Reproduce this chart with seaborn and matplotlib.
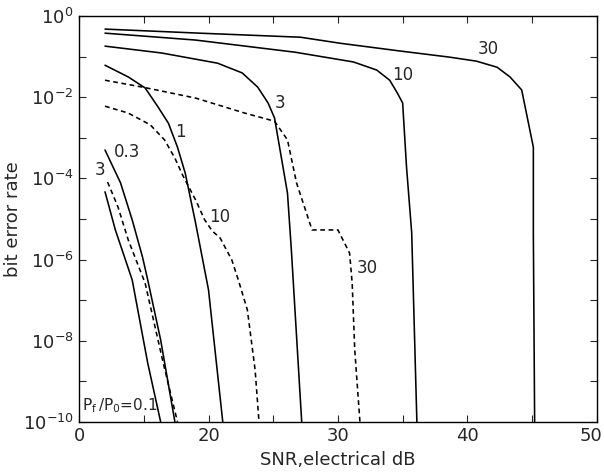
import numpy as np
import pandas as pd
import matplotlib
matplotlib.use("Agg")
import matplotlib.pyplot as plt
import matplotlib.transforms as mtransforms
import seaborn as sns
from matplotlib.ticker import FixedLocator, NullFormatter

# ----------------------------------------------------------------------------
# Data: SNR (dB) and log10(bit error rate)
# ----------------------------------------------------------------------------
# solid curves
snr_s01 = [12.0, 12.8, 14.1, 15.3, 16.3]
ber_s01 = [-4.33, -5.27, -6.50, -8.55, -10.0]

snr_s03 = [12.0, 13.2, 14.1, 14.9, 15.3, 16.3, 17.4]
ber_s03 = [-3.30, -4.11, -5.02, -5.94, -6.50, -7.98, -10.0]

snr_s1 = [12.0, 13.8, 15.1, 16.1, 16.9, 17.6, 18.2, 19.0, 20.0, 20.5, 21.1]
ber_s1 = [-1.21, -1.50, -1.77, -2.24, -2.64, -3.23, -3.87, -5.10, -6.75, -8.23, -10.0]

snr_s3 = [12.0, 16.4, 20.7, 22.6, 23.8, 24.6, 25.1, 26.1, 26.4, 27.2]
ber_s3 = [-0.74, -0.91, -1.16, -1.40, -1.75, -2.14, -2.51, -4.36, -5.76, -10.0]

snr_s10 = [12.0, 19.0, 26.7, 31.2, 33.0, 34.0, 34.6, 35.0, 35.3, 35.7, 36.1]
ber_s10 = [-0.42, -0.59, -0.89, -1.13, -1.33, -1.58, -1.90, -2.14, -3.72, -5.34, -10.0]

snr_s30 = [12.0, 19.3, 27.1, 30.2, 34.8, 38.6, 40.7, 42.3, 43.3, 44.2, 45.1, 45.1, 45.2]
ber_s30 = [-0.32, -0.42, -0.52, -0.67, -0.86, -1.01, -1.11, -1.26, -1.50, -1.82, -3.23, -5.34, -10.0]

# dashed curves
snr_d3 = [12.2, 13.0, 13.8, 15.1, 16.5, 17.6]
ber_d3 = [-4.09, -4.70, -5.52, -6.58, -8.55, -10.0]

snr_d10 = [12.0, 13.8, 15.5, 16.6, 17.4, 18.0, 19.0, 19.7, 20.3, 20.9, 21.8, 22.3, 23.0, 23.6, 23.9]
ber_d10 = [-2.22, -2.39, -2.68, -3.05, -3.50, -3.92, -4.53, -5.02, -5.30, -5.47, -6.01, -6.50, -7.24, -8.72, -10.0]

snr_d30 = [12.0, 14.9, 19.0, 22.8, 25.1, 26.1, 26.8, 28.0, 30.0, 30.9, 31.1, 31.3, 31.7]
ber_d30 = [-1.58, -1.75, -2.02, -2.39, -2.59, -3.05, -4.11, -5.27, -5.27, -5.84, -6.58, -8.23, -10.0]

curves = {
    "s0.1": ("solid", snr_s01, ber_s01),
    "s0.3": ("solid", snr_s03, ber_s03),
    "s1": ("solid", snr_s1, ber_s1),
    "s3": ("solid", snr_s3, ber_s3),
    "s10": ("solid", snr_s10, ber_s10),
    "s30": ("solid", snr_s30, ber_s30),
    "d3": ("dashed", snr_d3, ber_d3),
    "d10": ("dashed", snr_d10, ber_d10),
    "d30": ("dashed", snr_d30, ber_d30),
}

# curve labels: text, snr, log10(ber)
label_text = ["30", "10", "3", "1", "0.3", "3", "10", "30"]
label_snr = [41.6, 35.0, 25.5, 17.8, 13.7, 11.6, 20.9, 32.3]
label_ber = [-0.81, -1.45, -2.14, -2.86, -3.35, -3.79, -4.95, -6.21]

x_ticks = [10, 20, 30, 40, 50]
x_ticklabels = ["0", "20", "30", "40", "50"]
x_minor = [15, 25, 35, 45]

rows = []
for name, (kind, xs, ys) in curves.items():
    for x, y in zip(xs, ys):
        rows.append({"curve": name, "kind": kind, "snr": x, "ber": 10.0 ** y})
df = pd.DataFrame(rows)

# ----------------------------------------------------------------------------
# Plot
# ----------------------------------------------------------------------------
sns.set_style("ticks")
plt.rcParams["font.family"] = ["DejaVu Sans"]

fig = plt.figure(figsize=(6.04, 4.74), dpi=100)
ax = fig.add_axes([0.131, 0.110, 0.857, 0.856])

sns.lineplot(
    data=df, x="snr", y="ber", units="curve", estimator=None,
    style="kind", dashes={"solid": "", "dashed": (3, 2.2)},
    color="black", linewidth=1.15, sort=False, legend=False, ax=ax,
)

ax.set_yscale("log")
ax.set_xlim(10, 50)
ax.set_ylim(1e-10, 1)

ax.set_xticks(x_ticks, labels=x_ticklabels)
ax.set_xticks(x_minor, minor=True)
ax.xaxis.set_minor_formatter(NullFormatter())

ax.yaxis.set_major_locator(FixedLocator([1e-10, 1e-8, 1e-6, 1e-4, 1e-2, 1]))
ax.yaxis.set_minor_locator(FixedLocator([1e-9, 1e-7, 1e-5, 1e-3, 1e-1]))
ax.yaxis.set_minor_formatter(NullFormatter())

ax.tick_params(which="both", direction="in", top=True, right=True,
               length=5, width=0.8, labelsize=13, pad=4)
for sp in ax.spines.values():
    sp.set_linewidth(1.0)
    sp.set_color("black")

# nudge the last x label a bit inward, as in the scan
last = ax.get_xticklabels()[-1]
last.set_transform(last.get_transform() +
                   mtransforms.ScaledTranslation(-6 / 100, 0, fig.dpi_scale_trans))

for t, x, y in zip(label_text, label_snr, label_ber):
    ax.text(x, 10.0 ** y, t, fontsize=12, ha="center", va="center")

ax.text(10.25, 10.0 ** -9.6, r"$\mathregular{P_f\,/P_0}$=0.1", fontsize=11,
        ha="left", va="center")

ax.set_xlabel("SNR,electrical dB", fontsize=13, labelpad=4)
ax.set_ylabel("bit error rate", fontsize=13)
ax.yaxis.set_label_coords(-0.11, 0.5)

fig.savefig("out.png", dpi=100)
